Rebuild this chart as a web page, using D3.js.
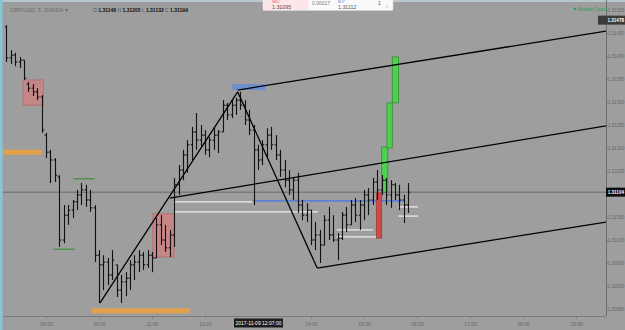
<!DOCTYPE html>
<html><head><meta charset="utf-8">
<script src="https://cdn.jsdelivr.net/npm/d3@7"></script>
<style>body{margin:0;background:#9e9e9e;}svg{display:block;font-family:"Liberation Sans",Arial,sans-serif;}</style>
</head><body><svg id="c" width="625" height="330"></svg>
<script>
// ---- data ----
const firstBarTime = "08:15";
const barMinutes = 5;
const barOpen = [1.31463,1.31396,1.31402,1.31387,1.31391,1.31339,1.31330,1.31322,1.31311,1.31228,1.31191,1.31174,1.31137,1.31000,1.31054,1.31065,1.31083,1.31098,1.31109,1.31087,1.31070,1.30967,1.30946,1.30952,1.30924,1.30946,1.30891,1.30909,1.30917,1.30946,1.30952,1.30967,1.30946,1.30967,1.30961,1.31033,1.31000,1.30983,1.31011,1.31120,1.31152,1.31185,1.31207,1.31235,1.31217,1.31228,1.31196,1.31217,1.31228,1.31235,1.31293,1.31272,1.31293,1.31304,1.31293,1.31261,1.31239,1.31196,1.31174,1.31207,1.31228,1.31207,1.31185,1.31152,1.31130,1.31109,1.31130,1.31076,1.31054,1.31065,1.31000,1.31011,1.30989,1.31043,1.31011,1.31000,1.31004,1.31054,1.31033,1.31076,1.31054,1.31076,1.31098,1.31087,1.31126,1.31109,1.31130,1.31098,1.31120,1.31098,1.31087,1.31076];
const barHigh = [1.31467,1.31413,1.31407,1.31398,1.31391,1.31343,1.31339,1.31330,1.31315,1.31233,1.31196,1.31178,1.31141,1.31076,1.31076,1.31087,1.31109,1.31124,1.31120,1.31109,1.31076,1.30978,1.30967,1.30961,1.30978,1.30946,1.30924,1.30930,1.30956,1.30967,1.30978,1.30974,1.30978,1.30974,1.31048,1.31054,1.31033,1.31022,1.31135,1.31163,1.31196,1.31217,1.31246,1.31276,1.31250,1.31239,1.31224,1.31246,1.31239,1.31304,1.31298,1.31304,1.31309,1.31322,1.31304,1.31283,1.31250,1.31207,1.31217,1.31243,1.31246,1.31228,1.31196,1.31174,1.31152,1.31137,1.31146,1.31087,1.31080,1.31065,1.31039,1.31022,1.31054,1.31072,1.31054,1.31015,1.31061,1.31072,1.31087,1.31091,1.31087,1.31109,1.31113,1.31135,1.31152,1.31141,1.31135,1.31130,1.31124,1.31120,1.31098,1.31124];
const barLow = [1.31387,1.31383,1.31378,1.31374,1.31348,1.31322,1.31313,1.31304,1.31233,1.31178,1.31124,1.31126,1.30985,1.30993,1.31033,1.31048,1.31065,1.31076,1.31072,1.31061,1.30952,1.30863,1.30891,1.30902,1.30913,1.30876,1.30863,1.30878,1.30891,1.30913,1.30930,1.30935,1.30939,1.30930,1.30961,1.30989,1.30974,1.30963,1.30985,1.31098,1.31130,1.31146,1.31174,1.31196,1.31202,1.31185,1.31180,1.31196,1.31189,1.31235,1.31261,1.31265,1.31272,1.31283,1.31250,1.31228,1.31076,1.31152,1.31163,1.31178,1.31196,1.31174,1.31137,1.31115,1.31098,1.31087,1.31059,1.31043,1.31039,1.30989,1.30978,1.30950,1.30989,1.31000,1.30996,1.30956,1.31000,1.31017,1.31033,1.31039,1.31022,1.31043,1.31054,1.31076,1.31087,1.31098,1.31076,1.31070,1.31087,1.31065,1.31037,1.31059];
const barClose = [1.31396,1.31402,1.31387,1.31391,1.31352,1.31330,1.31322,1.31311,1.31239,1.31191,1.31174,1.31141,1.31000,1.31054,1.31065,1.31083,1.31098,1.31109,1.31087,1.31070,1.30967,1.30946,1.30952,1.30924,1.30956,1.30891,1.30909,1.30917,1.30946,1.30952,1.30967,1.30946,1.30967,1.30961,1.31033,1.31000,1.30983,1.31011,1.31120,1.31152,1.31185,1.31207,1.31235,1.31217,1.31228,1.31196,1.31217,1.31228,1.31235,1.31293,1.31272,1.31293,1.31304,1.31293,1.31261,1.31239,1.31196,1.31174,1.31207,1.31228,1.31207,1.31185,1.31152,1.31130,1.31109,1.31130,1.31076,1.31054,1.31065,1.31000,1.31011,1.30989,1.31043,1.31011,1.31000,1.31004,1.31054,1.31033,1.31076,1.31054,1.31076,1.31098,1.31087,1.31126,1.31109,1.31130,1.31098,1.31120,1.31098,1.31087,1.31076,1.31104];

const xTickLabels = ["09:00","10:00","11:00","12:00","14:00","15:00","16:00","17:00","18:00","19:00"];
const yTickValues = [1.31500,1.31450,1.31400,1.31350,1.31300,1.31250,1.31200,1.31150,1.31050,1.31000,1.30950,1.30900,1.30850];
const lastPrice = 1.31104;
const markedPrice = 1.31478;
const crosshairTime = "2017-11-09 12:07:00";
const headerSymbol = "GBP/USD, 5, OANDA";
const headerOHLC = [["O","1.31148"],["H","1.31205"],["L","1.31132"],["C","1.31199"]];
const quoteSell = "1.31095", quoteSpread = "0.00017", quoteBuy = "1.31112";

// drawings: [t1, p1, t2, p2]
const trendLines = [
  ["10:01",1.30863,"12:37",1.31322],
  ["12:37",1.31322,"14:07",1.30939],
  ["14:07",1.30939,"19:34",1.31039],
  ["12:37",1.31326,"19:34",1.31454],
  ["11:20",1.31091,"19:34",1.31248]
];
const whiteLevels = [
  ["11:26",1.31083,"12:54"],
  ["11:26",1.31061,"14:08"],
  ["14:29",1.31022,"15:10"],
  ["14:29",1.31007,"15:16"],
  ["15:39",1.31072,"16:01"],
  ["15:39",1.31052,"16:01"]
];
const blueLevels = [["12:54",1.31085,"15:44"]];
const greenLevels = [["09:08",1.30980,"09:33"],["09:31",1.31133,"09:55"]];
const orangeLevels = [["08:05",1.31191,"08:55"],["09:52",1.30846,"11:43"]];
const redZones = [["08:34",1.31348,"08:57",1.31293],["11:01",1.31057,"11:25",1.30963]];
const blueZones = [["12:31",1.31339,"13:08",1.31326]];
const renkoDown = [["15:14",1.31102,"15:20",1.31004]];
const renkoUp = [["15:20",1.31202,"15:27",1.31104],["15:26",1.31298,"15:32",1.31200],["15:32",1.31398,"15:39",1.31298]];

// ---- scales ----
const toMin = s => +s.slice(0,2)*60 + +s.slice(3,5);
const x = d3.scaleLinear().domain([540,1140]).range([46,576]);
const y = d3.scaleLinear().domain([1.315,1.3085]).range([10,309]);
const L=3,R=606,T=3,B=316;

const svg = d3.select("#c");
svg.append("rect").attr("width",625).attr("height",330).attr("fill","#9e9e9e");
svg.append("defs").append("clipPath").attr("id","plot").append("rect").attr("x",L).attr("y",T).attr("width",R-L).attr("height",B-T);
const g = svg.append("g").attr("clip-path","url(#plot)");

// last price line
g.append("line").attr("x1",L).attr("x2",R).attr("y1",y(lastPrice)).attr("y2",y(lastPrice)).attr("stroke","#5c5c5c").attr("stroke-width",0.8);

// zones
g.selectAll(".rz").data(redZones).join("rect")
  .attr("x",d=>x(toMin(d[0]))).attr("y",d=>y(d[1]))
  .attr("width",d=>x(toMin(d[2]))-x(toMin(d[0]))).attr("height",d=>y(d[3])-y(d[1]))
  .attr("fill","#c48686").attr("stroke","#b96a6a").attr("stroke-width",0.8);
g.selectAll(".bz").data(blueZones).join("rect")
  .attr("x",d=>x(toMin(d[0]))).attr("y",d=>y(d[1]))
  .attr("width",d=>x(toMin(d[2]))-x(toMin(d[0]))).attr("height",d=>y(d[3])-y(d[1]))
  .attr("fill","#6d8fcf");

function levels(data, color, w){
  g.append("g").selectAll("line").data(data).join("line")
    .attr("x1",d=>x(toMin(d[0]))).attr("x2",d=>x(toMin(d[2])))
    .attr("y1",d=>y(d[1])).attr("y2",d=>y(d[1]))
    .attr("stroke",color).attr("stroke-width",w);
}
levels(orangeLevels,"#e3a24a",5);
levels(whiteLevels,"#ececec",1.3);
levels(blueLevels,"#5b80d4",1.6);
levels(greenLevels,"#3f8f3f",1.2);

// renko bricks
function bricks(data, fill, stroke){
  g.append("g").selectAll("rect").data(data).join("rect")
    .attr("x",d=>x(toMin(d[0]))).attr("y",d=>y(d[1]))
    .attr("width",d=>x(toMin(d[2]))-x(toMin(d[0]))).attr("height",d=>y(d[3])-y(d[1]))
    .attr("fill",fill).attr("stroke",stroke).attr("stroke-width",0.8);
}
bricks(renkoDown,"#cc4a4a","#a83a3a");
bricks(renkoUp,"#4fd04f","#2f8f2f");

// OHLC bars
const t0 = toMin(firstBarTime);
const bars = barOpen.map((o,k)=>({t:t0+barMinutes*k,o,h:barHigh[k],l:barLow[k],c:barClose[k]}));
const bg = g.append("g").attr("stroke","#111").attr("stroke-width",1.1);
bars.forEach(b=>{
  const cx = Math.round(x(b.t))+0.5;
  bg.append("line").attr("x1",cx).attr("x2",cx).attr("y1",y(b.h)).attr("y2",y(b.l));
  bg.append("line").attr("x1",cx-1.8).attr("x2",cx).attr("y1",y(b.o)).attr("y2",y(b.o));
  bg.append("line").attr("x1",cx).attr("x2",cx+1.8).attr("y1",y(b.c)).attr("y2",y(b.c));
});

// trend lines
g.append("g").selectAll("line").data(trendLines).join("line")
  .attr("x1",d=>x(toMin(d[0]))).attr("y1",d=>y(d[1]))
  .attr("x2",d=>x(toMin(d[2]))).attr("y2",d=>y(d[3]))
  .attr("stroke","#000").attr("stroke-width",1.3);

// borders
svg.append("rect").attr("x",0).attr("y",0).attr("width",625).attr("height",2).attr("fill","#b7c7cd");
svg.append("rect").attr("x",0).attr("y",0).attr("width",2.5).attr("height",330).attr("fill","#86c6d8");

// axes
svg.append("line").attr("x1",R+0.5).attr("x2",R+0.5).attr("y1",0).attr("y2",B).attr("stroke","#6e6e6e").attr("stroke-width",1);
svg.append("line").attr("x1",L).attr("x2",R).attr("y1",B+0.5).attr("y2",B+0.5).attr("stroke","#7a7a7a").attr("stroke-width",1);
const yAxis = d3.axisRight(y).tickValues(yTickValues).tickFormat(d3.format(".5f")).tickSize(1.5);
const ya = svg.append("g").attr("transform",`translate(${R+0.5},0)`).call(yAxis);
ya.select(".domain").remove();
ya.selectAll("line").attr("stroke","#777");
ya.selectAll("text").attr("fill","#666").attr("font-size",4.6).attr("x",17.8).attr("text-anchor","end");
const xAxis = d3.axisBottom(x).tickValues(xTickLabels.map(toMin)).tickFormat((d,i)=>xTickLabels[i]).tickSize(2);
const xa = svg.append("g").attr("transform",`translate(0,${B+0.5})`).call(xAxis);
xa.select(".domain").remove();
xa.selectAll("line").attr("stroke","#777");
xa.selectAll("text").attr("fill","#666").attr("font-size",5).attr("dy","0.9em");

// crosshair date label
const dx = x(toMin("13:00"));
svg.append("rect").attr("x",dx-24).attr("y",318.5).attr("width",49).attr("height",9).attr("fill","#1c1c1c");
svg.append("text").attr("x",dx+0.5).attr("y",325.3).attr("text-anchor","middle").attr("font-size",5).attr("fill","#fff").text(crosshairTime);

// price tags
function tag(p, txt, fill, x0, w){
  svg.append("rect").attr("x",x0).attr("y",y(p)-4.5).attr("width",w).attr("height",9).attr("fill",fill);
  svg.append("text").attr("x",624).attr("y",y(p)+1.7).attr("text-anchor","end").attr("font-size",4.6).attr("font-weight","bold").attr("fill","#fff").text(txt);
}
tag(lastPrice, d3.format(".5f")(lastPrice), "#0d0d0d", 606, 19);
tag(markedPrice, d3.format(".5f")(markedPrice), "#3b3b3b", 598, 27);

// market open
svg.append("circle").attr("cx",575).attr("cy",9).attr("r",1.3).attr("fill","#2f9f55");
svg.append("text").attr("x",578).attr("y",10.8).attr("font-size",5).attr("fill","#2f9f55").text("Market Open");

// header
svg.append("text").attr("x",10).attr("y",12).attr("font-size",5.5).attr("fill","#6a6a6a").text(headerSymbol + "  ▾");
const ht = svg.append("text").attr("x",93).attr("y",12).attr("font-size",5);
headerOHLC.forEach(([k,v])=>{
  ht.append("tspan").attr("fill","#555").text(k+" ");
  ht.append("tspan").attr("fill","#111").attr("font-weight","bold").text(v+"  ");
});

// quote popup
svg.append("rect").attr("x",263).attr("y",-3).attr("width",130).attr("height",13.5).attr("rx",1.5).attr("fill","#fafafa").attr("stroke","#d8d8d8").attr("stroke-width",0.5);
svg.append("rect").attr("x",263.5).attr("y",-3).attr("width",45).attr("height",13).attr("fill","#fde6ea");
svg.append("text").attr("x",272).attr("y",3.3).attr("font-size",3.3).attr("fill","#e05a6e").text("SELL");
svg.append("text").attr("x",272).attr("y",9).attr("font-size",5.3).attr("fill","#5a4a4e").text(quoteSell);
svg.append("text").attr("x",312).attr("y",5).attr("font-size",5).attr("fill","#777").text(quoteSpread);
svg.append("text").attr("x",338).attr("y",3.3).attr("font-size",3.3).attr("fill","#5a8ad0").text("BUY");
svg.append("text").attr("x",338).attr("y",9).attr("font-size",5.3).attr("fill","#4a5566").text(quoteBuy);
svg.append("text").attr("x",378).attr("y",5).attr("font-size",5).attr("fill","#555").text("1");
svg.append("text").attr("x",386).attr("y",8).attr("font-size",4).attr("fill","#999").text("≡");
</script></body></html>
